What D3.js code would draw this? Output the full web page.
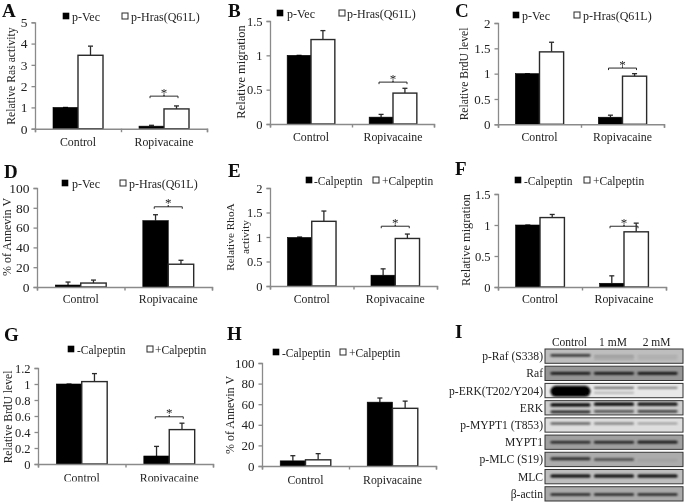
<!DOCTYPE html>
<html><head><meta charset="utf-8">
<script src="https://cdn.jsdelivr.net/npm/d3@7"></script>
<style>html,body{margin:0;padding:0;background:#fff}svg{display:block}text{font-family:"Liberation Serif",serif;fill:#222}</style>
</head><body><div id="c"></div>
<script>
// ---- data ----
const categories = ["Control", "Ropivacaine"];
const seriesVec = ["p-Vec", "p-Hras(Q61L)"];
const seriesCal = ["-Calpeptin", "+Calpeptin"];
const ticksA = [0,1,2,3,4,5], ticksB = [0,0.5,1,1.5], ticksC = [0,0.5,1,1.5,2], ticksD = [0,20,40,60,80,100];
const ticksE = [0,0.5,1,1.5,2], ticksF = [0,0.5,1,1.5], ticksG = [0,0.2,0.4,0.6,0.8,1,1.2], ticksH = [0,20,40,60,80,100];
// values: [series1 control, series1 ropivacaine], [series2 control, series2 ropivacaine]
const valsA = [[1,0.12],[3.45,0.93]], topsA = [[1,0.16],[3.88,1.07]], sigA = 1.53;
const valsB = [[1,0.1],[1.23,0.45]], topsB = [[1,0.14],[1.36,0.52]], sigB = 0.61;
const valsC = [[1,0.14],[1.43,0.95]], topsC = [[1,0.18],[1.62,1.0]], sigC = 1.11;
const valsD = [[2,67],[4,23]], topsD = [[5,73],[7,27]], sigD = 81;
const valsE = [[0.99,0.22],[1.32,0.97]], topsE = [[1,0.35],[1.53,1.06]], sigE = 1.22;
const valsF = [[1,0.06],[1.12,0.89]], topsF = [[1,0.18],[1.17,1.03]], sigF = 0.98;
const valsG = [[1,0.1],[1.03,0.43]], topsG = [[1,0.22],[1.13,0.51]], sigG = 0.59;
const valsH = [[5,62],[6,56]], topsH = [[10,66],[12,63]];
const blotLanes = ["Control","1 mM","2 mM"];
const blotRows = ["p-Raf (S338)","Raf","p-ERK(T202/Y204)","ERK","p-MYPT1 (T853)","MYPT1","p-MLC (S19)","MLC","β-actin"];
const blotBg = [190,150,232,205,222,160,172,190,170];
// per row, per lane: list of [vertical position 0-1, strength 0-1, thickness]
const blotBands = [
 [[[.45,.85,2.2]],[[.5,.3,1.5],[.7,.25,1.2]],[[.5,.15,1.5],[.7,.15,1.2]]],
 [[[.5,.85,2.6]],[[.5,.85,2.6]],[[.5,.9,2.6]]],
 [[[.55,1,11]],[[.3,.75,1.6],[.65,.3,1.5]],[[.3,.6,1.6]]],
 [[[.3,1,3.2],[.78,.85,2.8]],[[.25,1,3.2],[.75,.6,2.8]],[[.25,.95,3.2],[.75,.7,2.8]]],
 [[[.4,.7,2]],[[.4,.5,2]],[[.4,.4,1.6]]],
 [[[.5,.8,2.6]],[[.5,.85,2.6]],[[.5,.9,2.8]]],
 [[[.45,.75,3]],[[.5,.6,2.4]],[[.55,.08,2]]],
 [[[.45,1,3]],[[.45,1,3]],[[.45,1,3]]],
 [[[.55,1,2]],[[.55,1,2]],[[.55,1,2]]]
];

// ---- layout ----
const panels = [
 {id:"A",lx:2,ly:17,x0:35,x1:207,y0:128.7,y1:22.3,max:5,ticks:ticksA,vals:valsA,tops:topsA,sig:sigA,ser:seriesVec,title:["Relative Ras activity"],tx:[15],tc:76,tf:11.7,leg:[63,72,122,131,21],lf:12,cd:17.5,yf:13.5},
 {id:"B",lx:228,ly:17,x0:270,x1:434,y0:124,y1:21,max:1.5,ticks:ticksB,vals:valsB,tops:topsB,sig:sigB,ser:seriesVec,title:["Relative migration"],tx:[245],tc:72,tf:12.5,leg:[277,287,339,347,18],lf:12,cd:17,yf:12.5},
 {id:"C",lx:455,ly:17,x0:498,x1:664,y0:124.3,y1:23,max:2,ticks:ticksC,vals:valsC,tops:topsC,sig:sigC,ser:seriesVec,title:["Relative BrdU level"],tx:[468],tc:74,tf:11.6,leg:[513,522,574,583,20],lf:12,cd:17,yf:13},
 {id:"D",lx:4,ly:178,x0:37,x1:212,y0:287,y1:188,max:100,ticks:ticksD,vals:valsD,tops:topsD,sig:sigD,ser:seriesVec,title:["% of Annevin V"],tx:[11],tc:237,tf:12,leg:[62,72,120,129,188],lf:12,cd:16,yf:13.5},
 {id:"E",lx:228,ly:177,x0:270,x1:437,y0:286,y1:188,max:2,ticks:ticksE,vals:valsE,tops:topsE,sig:sigE,ser:seriesCal,title:["Relative RhoA","activity"],tx:[234,249],tc:237,tf:11.3,leg:[306,314,373,382,185],lf:11.5,cd:17,yf:12.5},
 {id:"F",lx:455,ly:175,x0:498,x1:666,y0:287,y1:194,max:1.5,ticks:ticksF,vals:valsF,tops:topsF,sig:sigF,ser:seriesCal,title:["Relative migration"],tx:[470],tc:240,tf:12.3,leg:[515,524,584,593,185],lf:11.5,cd:16,yf:12.5},
 {id:"G",lx:4,ly:341,x0:38,x1:213,y0:464,y1:368,max:1.2,ticks:ticksG,vals:valsG,tops:topsG,sig:sigG,ser:seriesCal,title:["Relative BrdU level"],tx:[12],tc:417,tf:11.6,leg:[68,77,147,155,354],lf:11.5,cd:18,yf:12.5},
 {id:"H",lx:227,ly:340,x0:262,x1:436,y0:466,y1:363,max:100,ticks:ticksH,vals:valsH,tops:topsH,sig:null,ser:seriesCal,title:["% of Annevin V"],tx:[234],tc:415,tf:12,leg:[273,282,340,349,357],lf:11.5,cd:18,yf:13}
];

const svg = d3.select("#c").append("svg").attr("width",685).attr("height",502);
const defs = svg.append("defs");
defs.append("filter").attr("id","soft").append("feGaussianBlur").attr("stdDeviation",0.35);
defs.append("filter").attr("id","band").attr("x","-10%").attr("y","-100%").attr("width","120%").attr("height","300%").append("feGaussianBlur").attr("stdDeviation",0.9);
const root = svg.append("g").attr("filter","url(#soft)");
const AXIS = "#8a8a8a", DARK = "#2a2a2a";

panels.forEach(p=>{
  const g = root.append("g");
  g.append("text").attr("x",p.lx).attr("y",p.ly).attr("font-size",19).attr("font-weight","bold").style("fill","#111").text(p.id);
  const y = d3.scaleLinear().domain([0,p.max]).range([p.y0,p.y1]);
  const x = d3.scaleBand().domain(categories).range([p.x0,p.x1]);
  const inner = d3.scaleBand().domain([0,1]).range([0,x.bandwidth()]).paddingOuter(0.72);

  p.vals.forEach((vals,s)=>{
    categories.forEach((c,i)=>{
      const bx = x(c)+inner(s), w = inner.bandwidth(), cx = bx+w/2;
      // error bar
      g.append("line").attr("x1",cx).attr("x2",cx).attr("y1",y(vals[i])).attr("y2",y(p.tops[s][i])).attr("stroke",DARK).attr("stroke-width",1.3);
      g.append("line").attr("x1",cx-2.5).attr("x2",cx+2.5).attr("y1",y(p.tops[s][i])).attr("y2",y(p.tops[s][i])).attr("stroke",DARK).attr("stroke-width",1.3);
      g.append("rect").attr("x",bx).attr("y",y(vals[i])).attr("width",w).attr("height",y(0)-y(vals[i]))
        .attr("fill",s===0?"#000":"#fff").attr("stroke",s===0?"#000":DARK).attr("stroke-width",s===0?0.6:1.4);
    });
  });

  // axes
  const ya = g.append("g").attr("transform",`translate(${p.x0},0)`).call(d3.axisLeft(y).tickValues(p.ticks).tickSize(3.5).tickPadding(4).tickFormat(d=>String(d)));
  ya.selectAll("path,line").attr("stroke",AXIS).attr("stroke-width",1.3);
  ya.selectAll("text").attr("font-size",p.yf).attr("font-family",'"Liberation Serif",serif').style("fill","#222");
  const xb = d3.scaleLinear().domain([0,2]).range([p.x0,p.x1]);
  const xa = g.append("g").attr("transform",`translate(0,${p.y0})`).call(d3.axisBottom(xb).tickValues([0,1,2]).tickSize(3.5).tickFormat(""));
  xa.selectAll("path,line").attr("stroke",AXIS).attr("stroke-width",1.4);
  categories.forEach(c=>{
    g.append("text").attr("x",x(c)+x.bandwidth()/2).attr("y",p.y0+p.cd).attr("text-anchor","middle").attr("font-size",11.8).text(c);
  });

  // y title
  p.title.forEach((t,i)=>{
    g.append("text").attr("transform",`translate(${p.tx[i]},${p.tc}) rotate(-90)`).attr("text-anchor","middle").attr("font-size",p.tf).text(t);
  });

  // legend
  const [sq1,t1,sq2,t2,base] = p.leg;
  g.append("rect").attr("x",sq1).attr("y",base-8).attr("width",6).attr("height",6).attr("fill","#000").attr("stroke","#000").attr("stroke-width",.6);
  g.append("rect").attr("x",sq2).attr("y",base-8).attr("width",6).attr("height",6).attr("fill","#fff").attr("stroke",DARK).attr("stroke-width",1);
  g.append("text").attr("x",t1).attr("y",base).attr("font-size",p.lf).text(p.ser[0]);
  g.append("text").attr("x",t2).attr("y",base).attr("font-size",p.lf).text(p.ser[1]);

  // significance bracket
  if(p.sig!==null){
    const cx = x(categories[1])+x.bandwidth()/2, by = y(p.sig);
    g.append("path").attr("d",d3.line()([[cx-14,by+2],[cx-14,by],[cx,by],[cx,by-1.5],[cx,by],[cx+14,by],[cx+14,by+2]]))
      .attr("fill","none").attr("stroke",DARK).attr("stroke-width",1);
    g.append("text").attr("x",cx).attr("y",by+0.5).attr("text-anchor","middle").attr("font-size",13).text("*");
  }
});

// panel G's category labels are cut by the figure edge crop
root.append("rect").attr("x",0).attr("y",481.5).attr("width",225).attr("height",12).attr("fill","#fff");

// blot panel I
const bg = root.append("g");
bg.append("text").attr("x",455).attr("y",338).attr("font-size",19).attr("font-weight","bold").style("fill","#111").text("I");
const bx = d3.scaleBand().domain(blotLanes).range([545,683]).padding(0.17);
const rowY = d3.scaleBand().domain(blotRows).range([349,501]).paddingInner(0.17);
blotLanes.forEach(l=>bg.append("text").attr("x",bx(l)+bx.bandwidth()/2-1).attr("y",346).attr("text-anchor","middle").attr("font-size",11.5).text(l));
blotRows.forEach((r,i)=>{
  const yy = rowY(r), h = rowY.bandwidth();
  const clip = "clip"+i;
  defs.append("clipPath").attr("id",clip).append("rect").attr("x",545).attr("y",yy).attr("width",138).attr("height",h);
  const v = blotBg[i];
  const rg = bg.append("g").attr("clip-path",`url(#${clip})`);
  rg.append("rect").attr("x",545).attr("y",yy).attr("width",138).attr("height",h).attr("fill",`rgb(${v},${v},${v})`);
  blotBands[i].forEach((bands,li)=>{
    bands.forEach(([pos,str,th])=>{
      const lane = blotLanes[li];
      rg.append("rect").attr("x",bx(lane)-2).attr("width",bx.bandwidth()+4)
        .attr("y",yy+pos*h-th/2).attr("height",th).attr("rx",th/2)
        .attr("fill","#000").attr("opacity",str).attr("filter","url(#band)");
    });
  });
  bg.append("rect").attr("x",545).attr("y",yy).attr("width",138).attr("height",h).attr("fill","none").attr("stroke","#333").attr("stroke-width",1);
  bg.append("text").attr("x",543).attr("y",yy+h/2+4).attr("text-anchor","end").attr("font-size",11.6).text(r);
});
</script></body></html>
